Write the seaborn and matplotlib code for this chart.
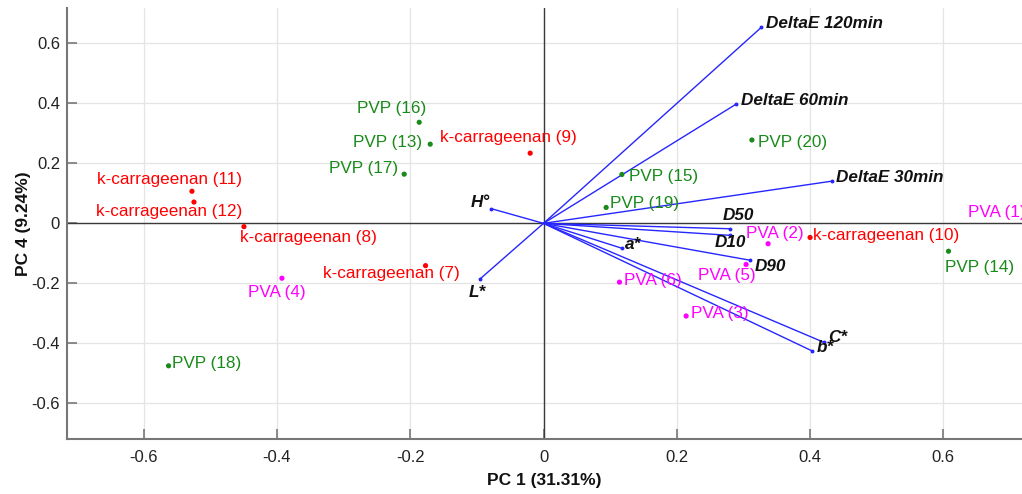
import matplotlib
matplotlib.use("Agg")
import matplotlib.pyplot as plt
import seaborn as sns
import pandas as pd
from matplotlib.ticker import FuncFormatter

# ---------------- data ----------------
sample_labels = ["PVA (1)", "PVA (2)", "PVA (3)", "PVA (4)", "PVA (5)", "PVA (6)",
                 "k-carrageenan (7)", "k-carrageenan (8)", "k-carrageenan (9)",
                 "k-carrageenan (10)", "k-carrageenan (11)", "k-carrageenan (12)",
                 "PVP (13)", "PVP (14)", "PVP (15)", "PVP (16)", "PVP (17)",
                 "PVP (18)", "PVP (19)", "PVP (20)"]
sample_group = ["PVA"] * 6 + ["k-carrageenan"] * 6 + ["PVP"] * 8
pc1_scores = [0.73, 0.337, 0.214, -0.3925, 0.304, 0.114,
              -0.177, -0.4495, -0.020, 0.400, -0.5275, -0.5245,
              -0.170, 0.6077, 0.1176, -0.1865, -0.209, -0.5626, 0.094, 0.3127]
pc4_scores = [0.03, -0.068, -0.309, -0.183, -0.137, -0.196,
              -0.141, -0.011, 0.234, -0.047, 0.107, 0.071,
              0.264, -0.093, 0.163, 0.337, 0.164, -0.475, 0.053, 0.278]

loading_labels = ["DeltaE 120min", "DeltaE 60min", "DeltaE 30min", "D50", "D10",
                  "D90", "a*", "C*", "b*", "H°", "L*"]
pc1_loadings = [0.3266, 0.2887, 0.4336, 0.2797, 0.2797, 0.310, 0.1176, 0.421,
                0.4027, -0.0785, -0.095]
pc4_loadings = [0.653, 0.397, 0.141, -0.018, -0.040, -0.123, -0.083, -0.397,
                -0.425, 0.049, -0.185]

x_ticks = [-0.6, -0.4, -0.2, 0, 0.2, 0.4, 0.6]
y_ticks = [-0.6, -0.4, -0.2, 0, 0.2, 0.4, 0.6]
x_title = "PC 1 (31.31%)"
y_title = "PC 4 (9.24%)"

# ---------------- layout / style ----------------
# label offsets (pixels) relative to each point, left-aligned, vertically centred
sample_label_offsets = [(-62, 2), (-22, 10), (5, 3), (-34, -14), (-48, -11), (5, 2),
                        (-103, -8), (-4, -11), (-90, 16), (3, 2), (-95, 12), (-98, -9),
                        (-77, 2), (-3, -16), (7, -2), (-62, 14), (-75, 6), (3, 2),
                        (4, 4), (6, -3)]
loading_label_offsets = [(5, 4), (5, 4), (4, 4), (-7, 13), (-15, -7), (5, -6),
                         (3, 4), (4, 5), (5, 3), (-20, 6), (-11, -14)]

palette = {"PVA": "#ff00ff", "k-carrageenan": "#ff0000", "PVP": "#1a8a1a"}
vec_color = "#2626ff"

sns.set_theme(style="white")
plt.rcParams["font.family"] = ["Liberation Sans", "DejaVu Sans"]
plt.rcParams["axes.unicode_minus"] = False

fig = plt.figure(figsize=(10.22, 4.94), dpi=100)
ax = fig.add_axes([67 / 1022, 1 - 439 / 494, 1 - 67 / 1022, (439 - 8) / 494])

ax.set_xlim(-0.715, 0.718)
ax.set_ylim(-0.719, 0.718)

ax.grid(True, color="#e4e4e4", linewidth=0.9)
ax.set_axisbelow(True)
ax.axhline(0, color="#3a3a3a", linewidth=1.0, zorder=1)
ax.axvline(0, color="#3a3a3a", linewidth=1.0, zorder=1)

# loading vectors
for lx, ly in zip(pc1_loadings, pc4_loadings):
    ax.plot([0, lx], [0, ly], color=vec_color, linewidth=1.0, zorder=2)
    ax.plot([lx], [ly], marker="o", markersize=1.8, color=vec_color, zorder=2)

df = pd.DataFrame({"pc1": pc1_scores, "pc4": pc4_scores, "group": sample_group,
                   "label": sample_labels})
sns.scatterplot(data=df, x="pc1", y="pc4", hue="group", palette=palette, s=14,
                linewidth=0, legend=False, ax=ax, zorder=3)

for (x, y, lab, grp), off in zip(zip(pc1_scores, pc4_scores, sample_labels, sample_group),
                                 sample_label_offsets):
    ax.annotate(lab, (x, y), xytext=off, textcoords="offset pixels", ha="left",
                va="center", fontsize=12.3, color=palette[grp], zorder=4,
                annotation_clip=False)

for x, y, lab, off in zip(pc1_loadings, pc4_loadings, loading_labels, loading_label_offsets):
    ax.annotate(lab, (x, y), xytext=off, textcoords="offset pixels", ha="left",
                va="center", fontsize=12.3, color="#111111", fontweight="bold",
                fontstyle="italic", zorder=4)

ax.set_xticks(x_ticks)
ax.set_yticks(y_ticks)
fmt = FuncFormatter(lambda v, p: "0" if abs(v) < 1e-9 else f"{v:g}")
ax.xaxis.set_major_formatter(fmt)
ax.yaxis.set_major_formatter(fmt)
ax.tick_params(axis="both", direction="in", length=7, width=1.2, color="#777777",
               labelsize=12, labelcolor="#222222")
ax.tick_params(axis="x", bottom=True, top=False, pad=8)
ax.tick_params(axis="y", left=True, right=False, pad=5)

for side in ["top", "right"]:
    ax.spines[side].set_visible(False)
for side in ["left", "bottom"]:
    ax.spines[side].set_color("#777777")
    ax.spines[side].set_linewidth(1.5)

ax.set_xlabel(x_title, fontsize=12.5, fontweight="bold", color="#111111", labelpad=6)
ax.set_ylabel(y_title, fontsize=12.5, fontweight="bold", color="#111111", labelpad=0.5)

fig.savefig("out.png", dpi=100)
